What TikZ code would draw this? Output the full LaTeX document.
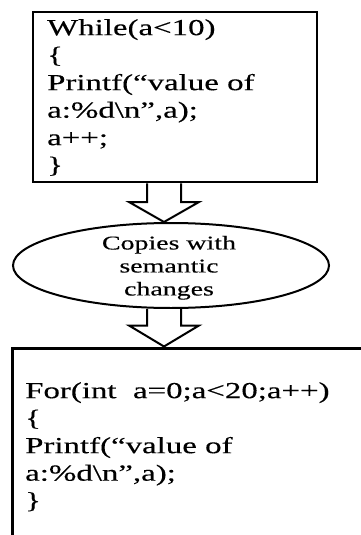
\documentclass[tikz,border=0pt]{standalone}
\usepackage{fontspec}
\setmainfont{Liberation Serif}[FakeStretch=1.43,FakeBold=0.3]
\usetikzlibrary{shapes.geometric,calc}
\tikzset{
  boxline/.style={draw=black, line width=2.6pt, inner sep=0pt},
  codetext/.style={font=\fontsize{23}{27.5}\selectfont, align=left, inner sep=0pt, anchor=north west, text=black},
  ovaltext/.style={font=\fontsize{19.5}{23}\selectfont, align=center, inner sep=0pt, text=black},
  blockarrow/.style={draw=black, line width=2pt, line join=miter, fill=white},
}
\begin{document}
\begin{tikzpicture}[x=1pt, y=1pt]
\useasboundingbox (0,0) rectangle (361,-535);
\clip (0,0) rectangle (361,-535);
\fill[white] (0,0) rectangle (361,-535);
% boxes
\node[boxline, minimum width=284pt, minimum height=170pt] (top) at (175,-97) {};
\node[boxline, line width=3pt, minimum width=387.5pt, minimum height=252pt] (bot) at (206.25,-474) {};
\node[draw=black, line width=2pt, ellipse, inner sep=0pt, minimum width=316pt, minimum height=85pt] (ell) at (171,-265.5) {};
% texts
\node[codetext] (toptext) at (47,-19) {While(a<10)\\\{\\Printf(“value of\\a:\%d\textbackslash n”,a);\\a++;\\\}};
\node[ovaltext] (elltext) at (169,-267.8) {Copies with\\semantic\\changes};
\node[codetext] (bottext) at (25,-382) {For(int~ a=0;a<20;a++)\\\{\\Printf(“value of\\a:\%d\textbackslash n”,a);\\\}};
% arrow axis
\coordinate (axis) at (164,0);
\coordinate (t1) at (top.south -| axis);
\coordinate (p1) at (ell.north -| axis);
\coordinate (t2) at (ell.south -| axis);
\coordinate (p2) at (bot.north -| axis);
\draw[blockarrow] ($(t1)+(-17,0)$) -- ($(p1)+(-17,20)$) -- ($(p1)+(-35,20)$) -- (p1) -- ($(p1)+(35,20)$) -- ($(p1)+(17,20)$) -- ($(t1)+(17,0)$);
\draw[blockarrow] ($(t2)+(-17,0)$) -- ($(p2)+(-17,21)$) -- ($(p2)+(-35,21)$) -- (p2) -- ($(p2)+(35,21)$) -- ($(p2)+(17,21)$) -- ($(t2)+(17,0)$);
\end{tikzpicture}
\end{document}
